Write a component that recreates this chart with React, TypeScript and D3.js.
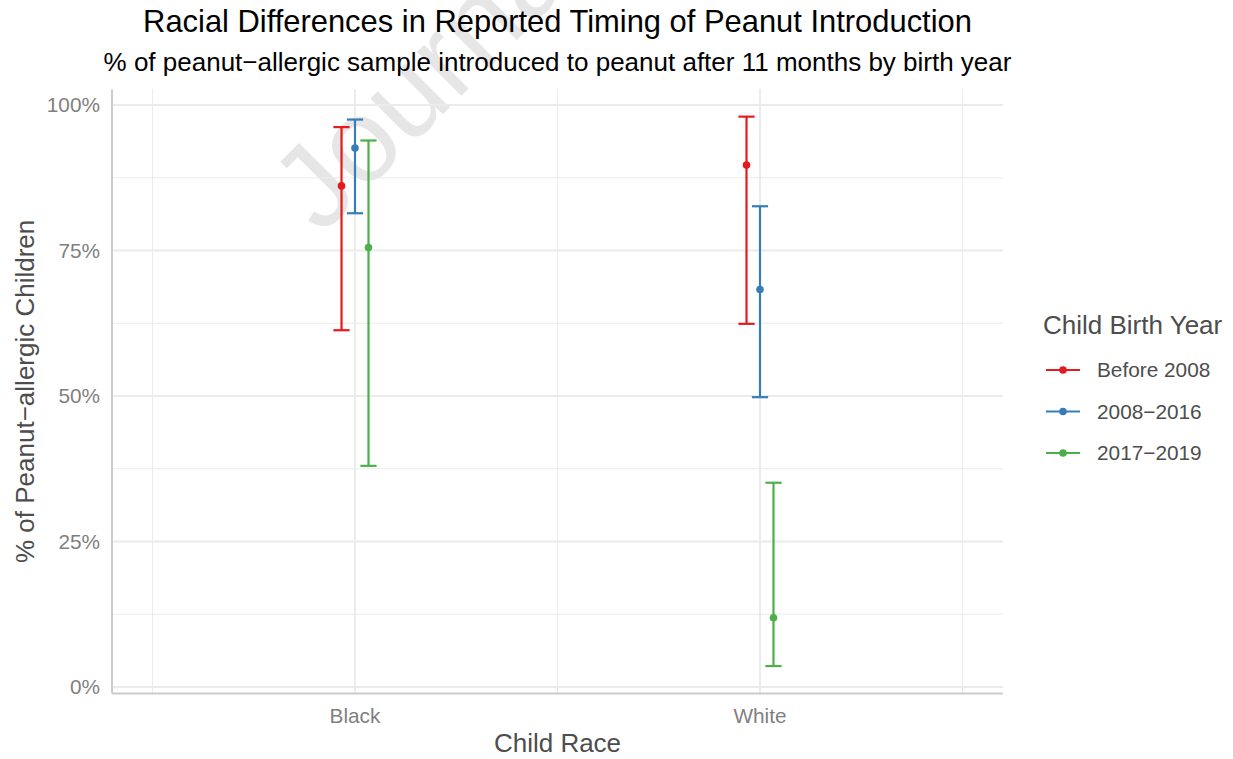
import React from "react";
import * as d3 from "d3";

const races = ["Black", "White"];
const groups = ["Before 2008", "2008\u22122016", "2017\u22122019"];
const colors = ["#E41A1C", "#377EB8", "#4DAF4A"];
// values per race, per group
const estimate = [
  [0.861, 0.926, 0.755],
  [0.897, 0.683, 0.119],
];
const lower = [
  [0.613, 0.814, 0.38],
  [0.624, 0.498, 0.036],
];
const upper = [
  [0.962, 0.975, 0.939],
  [0.98, 0.826, 0.351],
];
const yTicks = [0, 0.25, 0.5, 0.75, 1];
const yMinor = [0.125, 0.375, 0.625, 0.875];

const W = 1233;
const H = 759;
const FONT = "'Liberation Sans', Arial, sans-serif";

export default function App() {
  const x = d3.scaleLinear().domain([0.4, 2.6]).range([112, 1003]);
  const y = d3.scaleLinear().domain([0, 1]).range([687, 105]);
  const all = [...lower.flat(), ...upper.flat()];
  const lo = d3.min(all)!;
  const hi = d3.max(all)!;
  const pad = (hi - lo) * 0.05;
  const top = y(hi + pad);
  const bottom = y(lo - pad);
  const left = x(0.4);
  const right = x(2.6);
  const dodge = 0.0333;
  const capHalf = 0.02;
  const xMajor = races.map((_, i) => i + 1);
  const xMinor = [0.5, 1.5, 2.5];
  const fmt = d3.format(".0%");
  const cx = (left + right) / 2;

  return (
    <svg width={W} height={H} style={{ position: "absolute", left: 0, top: 0, background: "#fff" }} fontFamily={FONT}>
      <rect width={W} height={H} fill="#fff" />
      {/* watermark */}
      <text
        x={321}
        y={236}
        transform="rotate(-45 321 236)"
        fontSize={118}
        fill="#e6e6e6"
      >
        Journal Pre-proof
      </text>
      {/* grid */}
      {yMinor.map((v) => (
        <line key={"ym" + v} x1={left} x2={right} y1={y(v)} y2={y(v)} stroke="#EBEBEB" strokeWidth={1} />
      ))}
      {xMinor.map((v) => (
        <line key={"xm" + v} x1={x(v)} x2={x(v)} y1={top} y2={bottom} stroke="#EBEBEB" strokeWidth={1} />
      ))}
      {yTicks.map((v) => (
        <line key={"yM" + v} x1={left} x2={right} y1={y(v)} y2={y(v)} stroke="#EBEBEB" strokeWidth={2} />
      ))}
      {xMajor.map((v) => (
        <line key={"xM" + v} x1={x(v)} x2={x(v)} y1={top} y2={bottom} stroke="#EBEBEB" strokeWidth={2} />
      ))}
      {/* axis lines */}
      <line x1={left} x2={left} y1={top} y2={bottom} stroke="#CCCCCC" strokeWidth={2} />
      <line x1={left} x2={right} y1={bottom} y2={bottom} stroke="#CCCCCC" strokeWidth={2} />
      {/* error bars */}
      {races.map((r, ri) =>
        groups.map((g, gi) => {
          const xv = ri + 1 + (gi - 1) * dodge;
          const px = x(xv);
          const c = colors[gi];
          return (
            <g key={r + g}>
              <line x1={px} x2={px} y1={y(lower[ri][gi])} y2={y(upper[ri][gi])} stroke={c} strokeWidth={2.2} />
              <line x1={x(xv - capHalf)} x2={x(xv + capHalf)} y1={y(upper[ri][gi])} y2={y(upper[ri][gi])} stroke={c} strokeWidth={2.2} />
              <line x1={x(xv - capHalf)} x2={x(xv + capHalf)} y1={y(lower[ri][gi])} y2={y(lower[ri][gi])} stroke={c} strokeWidth={2.2} />
              <circle cx={px} cy={y(estimate[ri][gi])} r={3.8} fill={c} />
            </g>
          );
        })
      )}
      {/* y tick labels */}
      {yTicks.map((v) => (
        <text key={"yt" + v} x={100} y={y(v)} dy="0.35em" textAnchor="end" fontSize={20.8} fill="#7F7F7F">
          {fmt(v)}
        </text>
      ))}
      {/* x tick labels */}
      {races.map((r, i) => (
        <text key={r} x={x(i + 1)} y={723} textAnchor="middle" fontSize={20.8} fill="#7F7F7F">
          {r}
        </text>
      ))}
      {/* axis titles */}
      <text x={cx} y={752} textAnchor="middle" fontSize={26} fill="#4D4D4D">
        Child Race
      </text>
      <text
        transform={`translate(34 ${(top + bottom) / 2}) rotate(-90)`}
        textAnchor="middle"
        fontSize={26}
        fill="#4D4D4D"
      >
        % of Peanut{"\u2212"}allergic Children
      </text>
      {/* titles */}
      <text x={cx} y={32} textAnchor="middle" fontSize={30.9} fill="#000">
        Racial Differences in Reported Timing of Peanut Introduction
      </text>
      <text x={cx} y={71} textAnchor="middle" fontSize={26} fill="#000">
        % of peanut{"\u2212"}allergic sample introduced to peanut after 11 months by birth year
      </text>
      {/* legend */}
      <text x={1043} y={334} fontSize={26} fill="#4D4D4D">
        Child Birth Year
      </text>
      {groups.map((g, gi) => {
        const ly = 370 + gi * 41.5;
        return (
          <g key={"lg" + g}>
            <line x1={1046} x2={1080} y1={ly} y2={ly} stroke={colors[gi]} strokeWidth={2.2} />
            <circle cx={1063} cy={ly} r={3.8} fill={colors[gi]} />
            <text x={1097} y={ly} dy="0.35em" fontSize={20.8} fill="#4D4D4D">
              {g}
            </text>
          </g>
        );
      })}
    </svg>
  );
}
